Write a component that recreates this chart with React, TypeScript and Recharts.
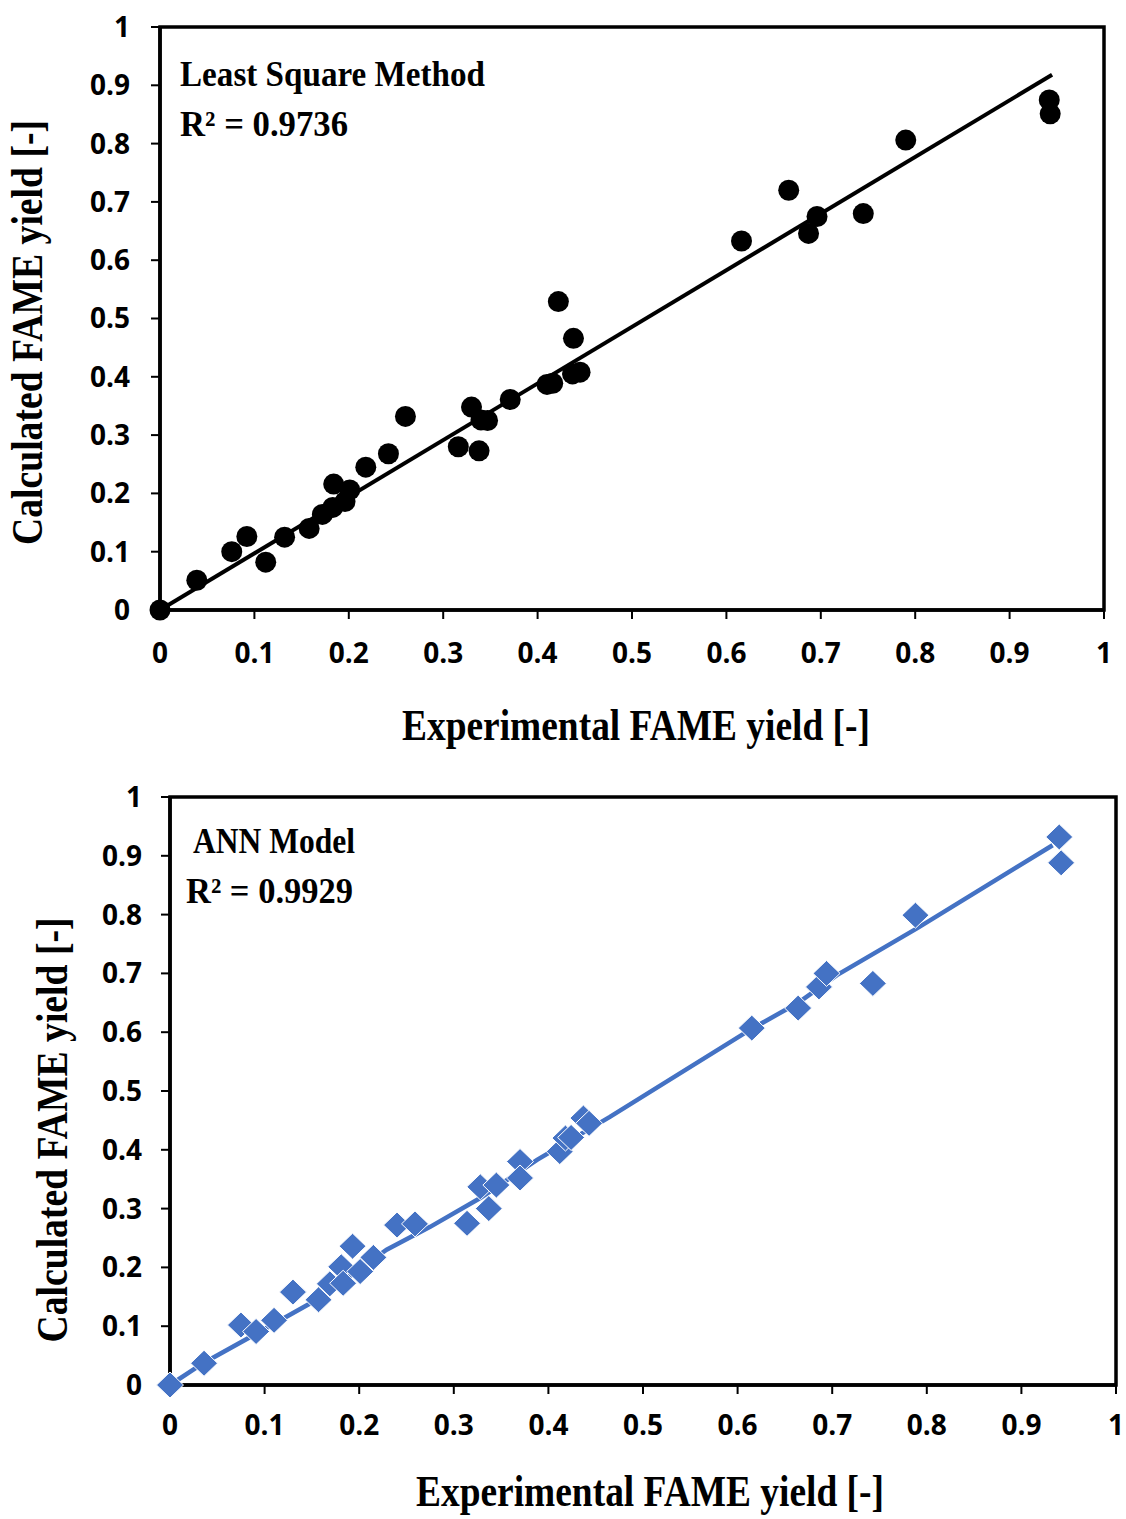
import React from "react";
import { ReferenceArea, Scatter, ScatterChart, XAxis, YAxis } from "recharts";

// values
const ticks = [0, 0.1, 0.2, 0.3, 0.4, 0.5, 0.6, 0.7, 0.8, 0.9, 1];

const lsmExp = [
  0, 0.039, 0.076, 0.092, 0.112, 0.132, 0.158, 0.172, 0.183, 0.184, 0.196, 0.201, 0.218, 0.242,
  0.26, 0.316, 0.33, 0.338, 0.34, 0.347, 0.371, 0.41, 0.416, 0.422, 0.438, 0.437, 0.445, 0.616,
  0.666, 0.687, 0.696, 0.745, 0.79, 0.942, 0.943,
];
const lsmCalc = [
  0, 0.051, 0.1, 0.126, 0.082, 0.125, 0.14, 0.164, 0.176, 0.216, 0.186, 0.206, 0.245, 0.268,
  0.332, 0.28, 0.348, 0.273, 0.326, 0.325, 0.361, 0.387, 0.389, 0.529, 0.466, 0.405, 0.408, 0.633,
  0.72, 0.646, 0.675, 0.68, 0.806, 0.875, 0.851,
];
const lsmFitX = [0, 0.945];
const lsmFitY = [0, 0.918];

const annExp = [
  0, 0.036, 0.075, 0.091, 0.11, 0.13, 0.157, 0.169, 0.181, 0.183, 0.193, 0.201, 0.215, 0.24,
  0.259, 0.314, 0.328, 0.337, 0.345, 0.37, 0.37, 0.412, 0.418, 0.424, 0.437, 0.443, 0.615, 0.664,
  0.686, 0.694, 0.743, 0.788, 0.94, 0.942,
];
const annCalc = [
  0, 0.037, 0.102, 0.091, 0.11, 0.158, 0.145, 0.172, 0.201, 0.173, 0.236, 0.193, 0.217, 0.272,
  0.274, 0.275, 0.337, 0.3, 0.34, 0.38, 0.352, 0.397, 0.42, 0.421, 0.454, 0.445, 0.607, 0.641,
  0.677, 0.7, 0.683, 0.799, 0.932, 0.888,
];
const annLineX = [0, 0.035, 0.092, 0.155, 0.229, 0.275, 0.328, 0.388, 0.465, 0.613, 0.664, 0.705, 0.79, 0.933];
const annLineY = [0, 0.037, 0.088, 0.145, 0.23, 0.269, 0.318, 0.383, 0.456, 0.604, 0.65, 0.697, 0.777, 0.918];

const zip = (xs: number[], ys: number[]) => xs.map((x, i) => ({ x, y: ys[i] }));

const SERIF = "'Liberation Serif', 'Times New Roman', serif";
const TICK_FONT = { fontSize: 28, fontFamily: "'Open Sans', sans-serif", fontWeight: 700, fill: "#000" };
const BLUE = "#4472C4";

function StretchText({ x, y, text, size, length, rotate = false, anchor = "middle" }: any) {
  return (
    <text
      x={x}
      y={y}
      fontFamily={SERIF}
      fontWeight={700}
      fontSize={size}
      textLength={length}
      lengthAdjust="spacingAndGlyphs"
      textAnchor={anchor}
      fill="#000"
      transform={rotate ? `rotate(-90 ${x} ${y})` : undefined}
    >
      {text}
    </text>
  );
}

const Dot = (props: any) => <circle cx={props.cx} cy={props.cy} r={10.5} fill="#000" />;
const Diamond = (props: any) => {
  const { cx, cy } = props;
  return (
    <polygon
      points={`${cx},${cy - 13} ${cx + 13.5},${cy} ${cx},${cy + 13} ${cx - 13.5},${cy}`}
      fill={BLUE}
      stroke="#fff"
      strokeWidth={1}
    />
  );
};
const NoShape = () => <g />;

function Panel({ cfg }: { cfg: any }) {
  return (
    <div style={{ position: "relative", width: 1126, height: cfg.height }}>
      <ScatterChart width={1126} height={cfg.height} margin={cfg.margin}>
        <XAxis
          type="number"
          dataKey="x"
          domain={[0, 1]}
          ticks={ticks}
          tickFormatter={(v) => String(v)}
          tick={TICK_FONT}
          tickSize={9}
          tickMargin={cfg.xTickMargin}
          tickLine={{ stroke: "#000", strokeWidth: 2 }}
          axisLine={{ stroke: "#000", strokeWidth: 3.5 }}
          height={cfg.xHeight}
          interval={0}
          label={{
            content: ({ viewBox }: any) => (
              <StretchText
                x={viewBox.x + viewBox.width / 2 + cfg.xTitleDx}
                y={viewBox.y + cfg.xTitleDy}
                text="Experimental FAME yield [-]"
                size={44}
                length={468}
              />
            ),
          }}
        />
        <YAxis
          type="number"
          dataKey="y"
          domain={[0, 1]}
          ticks={ticks}
          tickFormatter={(v) => String(v)}
          tick={TICK_FONT}
          tickSize={9}
          tickMargin={cfg.yTickMargin}
          tickLine={{ stroke: "#000", strokeWidth: 2 }}
          axisLine={{ stroke: "#000", strokeWidth: 3.5 }}
          width={cfg.yWidth}
          interval={0}
          label={{
            content: ({ viewBox }: any) => (
              <StretchText
                x={cfg.yTitleX}
                y={viewBox.y + viewBox.height / 2 + cfg.yTitleDy}
                text="Calculated FAME yield [-]"
                size={44}
                length={425}
                rotate
              />
            ),
          }}
        />
        <ReferenceArea x1={0} x2={1} y1={0} y2={1} fill="none" stroke="#000" strokeWidth={3.5} />
        <Scatter
          data={cfg.line}
          line={{ stroke: cfg.color, strokeWidth: cfg.lineWidth }}
          shape={NoShape}
          legendType="none"
          isAnimationActive={false}
        />
        <Scatter data={cfg.points} shape={cfg.shape} isAnimationActive={false} />
      </ScatterChart>
      <svg
        width={1126}
        height={cfg.height}
        style={{ position: "absolute", left: 0, top: 0, pointerEvents: "none" }}
      >
        <StretchText x={cfg.noteX} y={cfg.noteY} text={cfg.title} size={35} length={cfg.titleLen} anchor="start" />
        <StretchText x={cfg.r2X} y={cfg.noteY + 50} text={cfg.r2} size={35} length={cfg.r2Len} anchor="start" />
      </svg>
    </div>
  );
}

const topCfg = {
  height: 770,
  margin: { top: 27, right: 22, bottom: 10, left: 0 },
  xHeight: 150,
  yWidth: 160,
  xTickMargin: 24,
  yTickMargin: 21,
  xTitleDx: 4,
  xTitleDy: 130,
  yTitleX: 42,
  yTitleDy: 14,
  color: "#000",
  lineWidth: 4,
  line: zip(lsmFitX, lsmFitY),
  points: zip(lsmExp, lsmCalc),
  shape: Dot,
  title: "Least Square Method",
  titleLen: 305,
  r2: "R² = 0.9736",
  r2Len: 168,
  noteX: 180,
  r2X: 180,
  noteY: 86,
};

const bottomCfg = {
  height: 749,
  margin: { top: 27, right: 10, bottom: 0, left: 0 },
  xHeight: 134,
  yWidth: 170,
  xTickMargin: 21,
  yTickMargin: 19,
  xTitleDx: 7,
  xTitleDy: 121,
  yTitleX: 67,
  yTitleDy: 39,
  color: BLUE,
  lineWidth: 4.5,
  line: zip(annLineX, annLineY),
  points: zip(annExp, annCalc),
  shape: Diamond,
  title: "ANN Model",
  titleLen: 162,
  r2: "R² = 0.9929",
  r2Len: 167,
  noteX: 193,
  r2X: 186,
  noteY: 83,
};

export default function App() {
  return (
    <div style={{ position: "absolute", left: 0, top: 0, width: 1126, height: 1519, background: "#fff" }}>
      <Panel cfg={topCfg} />
      <Panel cfg={bottomCfg} />
    </div>
  );
}
